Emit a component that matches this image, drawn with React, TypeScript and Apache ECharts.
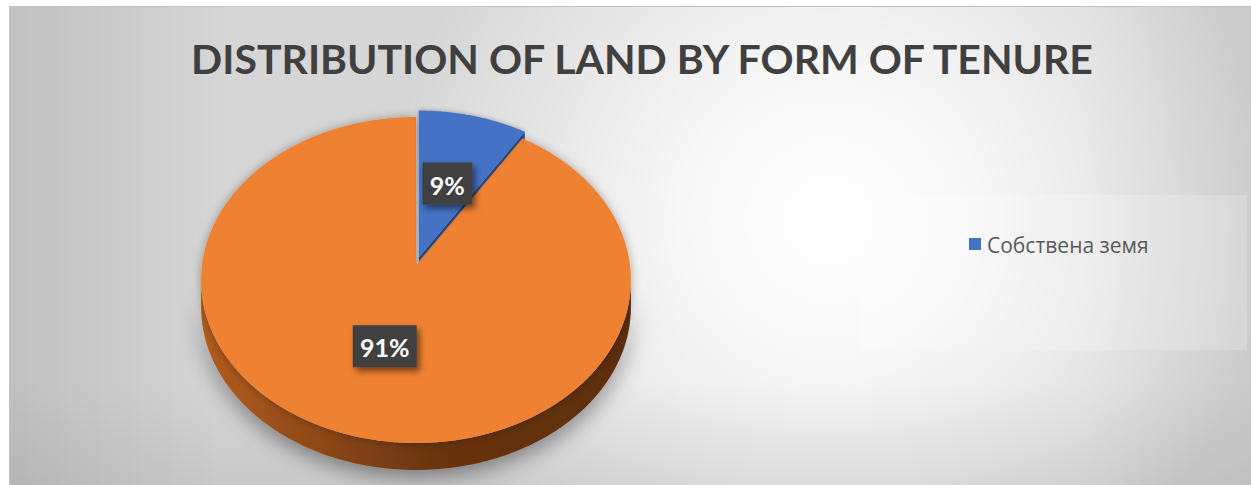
import React, { useEffect, useRef } from 'react';
import * as echarts from 'echarts';

const W = 1251;
const H = 485;

const titleText = 'DISTRIBUTION OF LAND BY FORM OF TENURE';
const categories = ['Собствена земя', 'Наета земя'];
const values = [9, 91];
const sliceColors = ['#4472C4', '#EF8131'];
const faceColors = ['#2F5597', '#8A4516'];
const explode = [0.05, 0];
const legendItems = [0];

const total = values.reduce((a, b) => a + b, 0);

// pie geometry (perspective-tilted disc)
const CX = 416;
const CY = 265;
const RX = 214;
const AY = 161.6;
const P = 0.092;
const T = 27;

function proj(u: number, v: number, dy = 0): number[] {
  const s = 1 / (1 - P * v);
  return [CX + RX * u * s, CY + AY * v * s + dy];
}

// front silhouette extremes
let thetaR = 0;
let thetaL = 0;
(() => {
  let maxX = -Infinity;
  let minX = Infinity;
  for (let t = 0; t < Math.PI * 2; t += 0.001) {
    const x = proj(Math.sin(t), -Math.cos(t))[0];
    if (x > maxX) { maxX = x; thetaR = t; }
    if (x < minX) { minX = x; thetaL = t; }
  }
})();

function renderItem(params: any, api: any) {
  const i = params.dataIndex;
  const val = api.value(0);
  const before = values.slice(0, i).reduce((a, b) => a + b, 0);
  const a0 = (before / total) * Math.PI * 2;
  const a1 = ((before + val) / total) * Math.PI * 2;
  const b = (a0 + a1) / 2;
  const e = explode[i];
  const offU = e * Math.sin(b);
  const offV = -e * Math.cos(b);
  const pt = (th: number, r = 1, dy = 0) => proj(r * Math.sin(th) + offU, -r * Math.cos(th) + offV, dy);
  const n = Math.max(8, Math.ceil((a1 - a0) / 0.01));
  const arc: number[][] = [];
  for (let k = 0; k <= n; k++) arc.push(pt(a0 + ((a1 - a0) * k) / n));

  const children: any[] = [];

  // side wall
  const s0 = Math.max(a0, thetaR);
  const s1 = Math.min(a1, thetaL);
  if (s1 > s0) {
    const m = Math.ceil((s1 - s0) / 0.01);
    const topPts: number[][] = [];
    for (let k = 0; k <= m; k++) topPts.push(pt(s0 + ((s1 - s0) * k) / m));
    const botPts = topPts.map((p) => [p[0], p[1] + T]).reverse();
    children.push({
      type: 'polygon',
      z2: 2,
      shape: { points: topPts.concat(botPts) },
      style: {
        fill: new echarts.graphic.LinearGradient(CX - RX, 0, CX + RX, 0, [
          { offset: 0, color: '#B35C1E' },
          { offset: 0.3, color: '#8A4617' },
          { offset: 0.55, color: '#693410' },
          { offset: 1, color: '#5C2E0E' },
        ], true),
        shadowBlur: 22,
        shadowOffsetY: 6,
        shadowColor: 'rgba(0,0,0,0.45)',
      },
    });
  }

  // cut face of exploded slice
  if (e > 0) {
    children.push({
      type: 'polygon',
      z2: 1,
      shape: { points: [pt(0, 0), pt(a1), pt(a1, 1, T), pt(0, 0, T)] },
      style: { fill: faceColors[i] },
    });
  }

  // top surface
  children.push({
    type: 'polygon',
    z2: e > 0 ? 4 : 3,
    shape: { points: [pt(0, 0)].concat(arc) },
    style: {
      fill: sliceColors[i],
      shadowBlur: e > 0 ? 5 : 10,
      shadowColor: 'rgba(0,0,0,0.3)',
    },
  });

  // label
  const lp = pt(b, 0.5);
  const txt = Math.round((val / total) * 100) + '%';
  const bw = 14 * txt.length + 22;
  const bh = 42;
  children.push({
    type: 'rect',
    z2: 10,
    shape: { x: lp[0] - bw / 2, y: lp[1] - bh / 2, width: bw, height: bh },
    style: {
      fill: '#3F3F3F',
      shadowBlur: 6,
      shadowOffsetX: 3,
      shadowOffsetY: 4,
      shadowColor: 'rgba(0,0,0,0.5)',
    },
  });
  children.push({
    type: 'text',
    z2: 11,
    x: lp[0],
    y: lp[1] + 1,
    style: {
      text: txt,
      align: 'center',
      verticalAlign: 'middle',
      fill: '#FFFFFF',
      font: 'bold 25px Lato',
    },
  });

  return { type: 'group', children };
}

export default function App() {
  const ref = useRef<HTMLDivElement>(null);
  useEffect(() => {
    if (!ref.current) return;
    const chart = echarts.init(ref.current, undefined, { renderer: 'svg' });
    const graphics: any[] = [
      { type: 'rect', z: -10, shape: { x: 9, y: 6, width: W - 9, height: H - 6 }, style: { fill: '#D6D6D6' } },
      {
        type: 'rect', z: -9, shape: { x: 9, y: 6, width: W - 9, height: H - 6 },
        style: {
          fill: new echarts.graphic.RadialGradient(830, 220, 440, [
            { offset: 0, color: 'rgba(255,255,255,1)' },
            { offset: 0.35, color: 'rgba(255,255,255,0.8)' },
            { offset: 1, color: 'rgba(255,255,255,0)' },
          ], true),
        },
      },
      {
        type: 'rect', z: -8, shape: { x: 9, y: 6, width: 220, height: H - 6 },
        style: {
          fill: new echarts.graphic.LinearGradient(9, 0, 229, 0, [
            { offset: 0, color: 'rgba(0,0,0,0.1)' },
            { offset: 1, color: 'rgba(0,0,0,0)' },
          ], true),
        },
      },
      {
        type: 'rect', z: -8, shape: { x: 9, y: 380, width: W - 9, height: H - 380 },
        style: {
          fill: new echarts.graphic.LinearGradient(0, 380, 0, H, [
            { offset: 0, color: 'rgba(0,0,0,0)' },
            { offset: 1, color: 'rgba(0,0,0,0.06)' },
          ], true),
        },
      },
      {
        type: 'rect', z: -8, shape: { x: 1080, y: 6, width: W - 1080, height: H - 6 },
        style: {
          fill: new echarts.graphic.LinearGradient(1080, 0, W, 0, [
            { offset: 0, color: 'rgba(0,0,0,0)' },
            { offset: 1, color: 'rgba(0,0,0,0.05)' },
          ], true),
        },
      },
      {
        type: 'rect', z: -7, shape: { x: 860, y: 195, width: 387, height: 155 },
        style: { fill: 'rgba(255,255,255,0.2)' },
      },
      {
        type: 'rect', z: -6, shape: { x: 9.5, y: 6.5, width: W - 9, height: H - 6 },
        style: { fill: 'none', stroke: '#C2C2C2', lineWidth: 1 },
      },
    ];
    legendItems.forEach((idx, k) => {
      graphics.push({
        type: 'rect', z: 5, shape: { x: 969, y: 238 + k * 26, width: 12, height: 12 },
        style: { fill: sliceColors[idx] },
      });
      graphics.push({
        type: 'text', z: 5, x: 987, y: 245 + k * 26,
        style: {
          text: categories[idx], fill: '#595959', font: '21px "Open Sans"',
          align: 'left', verticalAlign: 'middle',
        },
      });
    });

    chart.setOption({
      animation: false,
      title: {
        text: titleText,
        left: 637,
        textAlign: 'center',
        top: 33,
        textStyle: { fontSize: 41, fontWeight: 'bold', fontFamily: 'Lato', color: '#404040' },
      },
      graphic: graphics,
      series: [
        {
          type: 'custom',
          coordinateSystem: 'none',
          silent: true,
          data: values.map((v, k) => ({ name: categories[k], value: [v] })),
          renderItem,
        },
      ],
    });
    return () => chart.dispose();
  }, []);
  return <div ref={ref} style={{ position: 'absolute', left: 0, top: 0, width: W, height: H }} />;
}
